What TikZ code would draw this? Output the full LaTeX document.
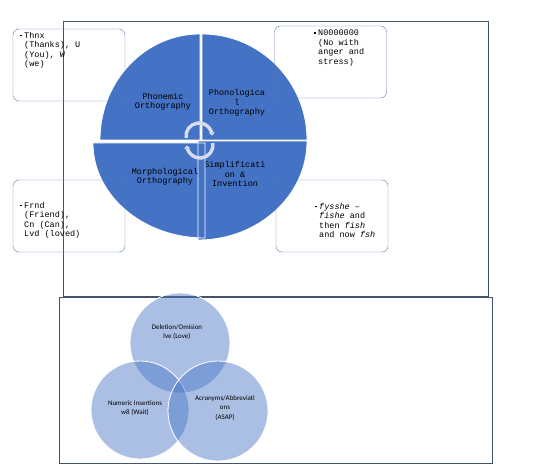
\documentclass[tikz,border=0pt]{standalone}
\usepackage{fontspec}
\setmonofont{Liberation Mono}
\newfontfamily\vennfont{Carlito}
\usetikzlibrary{arrows.meta}
\definecolor{pieblue}{HTML}{4472C4}
\definecolor{framecol}{HTML}{44546A}
\definecolor{calloutcol}{HTML}{5B7BB0}
\definecolor{cyclecol}{HTML}{D5DCEB}
\newcommand{\bul}{\llap{\rule[2pt]{1.8pt}{1.8pt}\hspace{2.6pt}}}

\begin{document}
\begin{tikzpicture}[x=1pt, y=-1pt,
    quad/.style={fill=pieblue},
    quadline/.style={draw=white, line width=0.8pt},
    quadtext/.style={font=\ttfamily\fontsize{8.5}{9.5}\selectfont, align=center, inner sep=0pt},
    callout/.style={draw=calloutcol, rounded corners=6pt, minimum width=112pt, minimum height=72pt, inner sep=0pt},
    callouttext/.style={font=\ttfamily\fontsize{8.5}{9.5}\selectfont, align=left, anchor=north west, inner sep=0pt},
    cyclearrow/.style={draw=cyclecol, line width=3.4pt, -{Triangle[length=3pt, width=6pt]}},
    venn/.style={fill=pieblue, fill opacity=0.45, draw=white, line width=0.8pt},
    venntext/.style={font=\vennfont\fontsize{7}{9.5}\selectfont, align=center, inner sep=0pt},
    outerframe/.style={draw=framecol, line width=1pt}
]
\useasboundingbox (0,0) rectangle (537,470);

% frames
\draw[outerframe] (63,22) rectangle (488,296);
\draw[outerframe] (59,297) rectangle (492,463);

% pie quadrants (slightly offset, like the original)
\fill[quad] (200,140) -- ++(-100,0) arc[start angle=180, delta angle=90, x radius=100, y radius=106] -- cycle;
\fill[quad] (202,140) -- ++(0,-106) arc[start angle=270, delta angle=90, x radius=105, y radius=106] -- cycle;
\fill[quad] (198,141) -- ++(109,0) arc[start angle=0, delta angle=90, x radius=109, y radius=99] -- cycle;
\node[quadtext] (simplification) at (235,174) {Simplificati\\on \&\\Invention};
\fill[quad] (205,143) -- ++(0,95) arc[start angle=90, delta angle=90, x radius=112, y radius=95] -- cycle;

% white edges on top
\foreach \cx/\cy/\rx/\ry/\a in {200/140/100/106/180, 202/140/105/106/270, 198/141/109/99/0, 205/143/112/95/90}
  \draw[quadline] (\cx,\cy) -- ++({\rx*cos(\a)},{\ry*sin(\a)}) arc[start angle=\a, delta angle=90, x radius=\rx, y radius=\ry] -- cycle;

% quadrant labels
\node[quadtext] (phonemic) at (163,102) {Phonemic\\Orthography};
\node[quadtext] (phonological) at (237,103) {Phonologica\\l\\Orthography};
\node[quadtext] (morphological) at (165,177) {Morphological\\Orthography};

% cycle arrows in the middle
\coordinate (cycletop) at (199,136);
\coordinate (cyclebot) at (200,145);
\draw[cyclearrow] ([shift={(172:13)}]cycletop) arc[start angle=172, end angle=358, radius=13];
\draw[cyclearrow] ([shift={(-8:13)}]cyclebot) arc[start angle=-8, end angle=178, radius=13];

% callouts
\node[callout] (thnxbox) at (69,65) {};
\node[callout] (noobox) at (330.5,62) {};
\node[callout] (frndbox) at (69,216) {};
\node[callout] (fishbox) at (332,216) {};

\node[callouttext] (thnx) at (24,32) {\bul Thnx\\(Thanks), U\\(You), W\\(we)};
\node[callouttext] (noo) at (318,30) {\bul N0000000\\(No with\\anger and\\stress)};
\node[callouttext] (frnd) at (24,202) {\bul Frnd\\(Friend),\\Cn (Can),\\Lvd (loved)};
\node[callouttext] (fish) at (319,203) {\bul \textit{fysshe} –\\\textit{fishe} and\\then \textit{fish}\\and now \textit{fsh}};

% venn diagram
\fill[venn] (180,343) circle[radius=50];
\fill[venn] (140,410) circle[radius=49];
\fill[venn] (218,411) circle[radius=50];

\node[venntext] (deletion) at (177,332) {Deletion/Omision\\lve (Love)};
\node[venntext] (numeric) at (135,408) {Numeric Insertions\\w8 (Wait)};
\node[venntext] (acronyms) at (225,408) {Acronyms/Abbreviati\\ons\\(ASAP)};

\end{tikzpicture}
\end{document}
